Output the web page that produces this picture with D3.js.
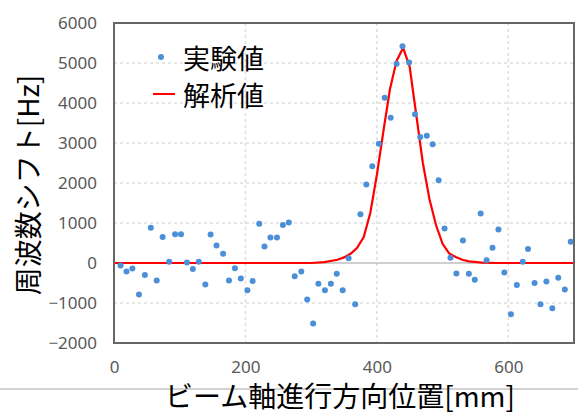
<!DOCTYPE html>
<html>
<head>
<meta charset="utf-8">
<script src="https://cdn.jsdelivr.net/npm/d3@7"></script>
<style>
    body { margin: 0; background: #fff; }
    text { font-family: "Noto Sans CJK JP", "Noto Sans", sans-serif; }
</style>
</head>
<body>
<div id="chart"></div>
<script>
// measured points (実験値)
const expX = [10, 19, 28, 38, 47, 56, 65, 74, 84, 93,
    102, 111, 120, 129, 139, 147, 156, 166, 175, 184,
    193, 203, 211, 221, 229, 238, 248, 257, 266, 275,
    285, 294, 303, 311, 321, 330, 339, 348, 357, 367,
    375, 384, 393, 403, 412, 421, 430, 439, 449, 458,
    466, 476, 485, 494, 503, 512, 521, 531, 540, 549,
    558, 567, 576, 585, 594, 604, 613, 622, 630, 640,
    649, 658, 667, 676, 686, 695];
const expY = [-60, -210, -140, -790, -300, 880, -440, 650, 30, 720,
    720, 10, -150, 30, -540, 710, 440, 230, -440, -130,
    -390, -680, -450, 980, 410, 640, 640, 950, 1010, -330,
    -210, -910, -1510, -520, -680, -520, -270, -680, 120, -1030,
    1220, 1960, 2420, 2980, 4130, 3630, 4980, 5420, 5010, 3720,
    3150, 3180, 2970, 2070, 860, 130, -260, 560, -270, -420,
    1240, 70, 380, 840, -240, -1280, -550, 30, 350, -500,
    -1030, -460, -1130, -370, -660, 530];

// analysis curve (解析値)
const calcX = [0, 300, 320, 340, 350, 360, 370, 380, 390, 400, 410, 420, 430, 440,
    450, 460, 470, 480, 490, 500, 510, 520, 530, 540, 560, 580, 700];
const calcY = [0, 0, 20, 80, 140, 230, 380, 650, 1250, 2200, 3300, 4350, 5050, 5380,
    4900, 3700, 2500, 1600, 950, 480, 240, 150, 80, 40, 10, 0, 0];

const xTicks = [0, 200, 400, 600];
const yTicks = [-2000, -1000, 0, 1000, 2000, 3000, 4000, 5000, 6000];
const legendLabels = ["実験値", "解析値"];

const width = 578, height = 413;
const plot = { left: 114, right: 574, top: 23, bottom: 343 };

const svg = d3.select("#chart")
    .append("svg")
    .attr("width", width)
    .attr("height", height);

svg.append("rect").attr("width", width).attr("height", height).attr("fill", "#fff");

const x = d3.scaleLinear().domain([0, 700]).range([plot.left, plot.right]);
const y = d3.scaleLinear().domain([-2000, 6000]).range([plot.bottom, plot.top]);

// grid lines
svg.selectAll(".hgrid")
    .data(yTicks.filter(d => d !== 0 && d !== -2000 && d !== 6000))
    .join("line")
    .attr("class", "hgrid")
    .attr("x1", plot.left).attr("x2", plot.right)
    .attr("y1", d => y(d)).attr("y2", d => y(d))
    .attr("stroke", "#dedede")
    .attr("stroke-width", 1.5)
    .attr("stroke-dasharray", "3,3");

svg.selectAll(".vgrid")
    .data(xTicks.filter(d => d !== 0))
    .join("line")
    .attr("class", "vgrid")
    .attr("y1", plot.top).attr("y2", plot.bottom)
    .attr("x1", d => x(d)).attr("x2", d => x(d))
    .attr("stroke", "#dedede")
    .attr("stroke-width", 1.5)
    .attr("stroke-dasharray", "3,3");

// zero line
svg.append("line")
    .attr("x1", plot.left).attr("x2", plot.right)
    .attr("y1", y(0)).attr("y2", y(0))
    .attr("stroke", "#bfbfbf")
    .attr("stroke-width", 1.5);

// axes tick labels
const xAxis = d3.axisBottom(x).tickValues(xTicks).tickSize(0).tickPadding(18);
const yAxis = d3.axisLeft(y).tickValues(yTicks).tickSize(0).tickPadding(17).tickFormat(d3.format("d"));

const gx = svg.append("g").attr("transform", `translate(0,${plot.bottom})`).call(xAxis);
const gy = svg.append("g").attr("transform", `translate(${plot.left},0)`).call(yAxis);
[gx, gy].forEach(g => {
    g.select(".domain").remove();
    g.selectAll("text")
        .attr("fill", "#595959")
        .style("font-size", "17px")
        .style("font-family", "'Noto Sans', sans-serif");
});

// analysis line
const line = d3.line().x(d => x(d[0])).y(d => y(d[1]));
svg.append("path")
    .datum(calcX.map((v, i) => [v, calcY[i]]))
    .attr("d", line)
    .attr("fill", "none")
    .attr("stroke", "#ff0000")
    .attr("stroke-width", 2.2);

// measured points
svg.selectAll(".pt")
    .data(expX.map((v, i) => [v, expY[i]]))
    .join("circle")
    .attr("class", "pt")
    .attr("cx", d => x(d[0]))
    .attr("cy", d => y(d[1]))
    .attr("r", 3)
    .attr("fill", "#4a8fd8");

// plot frame
svg.append("rect")
    .attr("x", plot.left).attr("y", plot.top)
    .attr("width", plot.right - plot.left)
    .attr("height", plot.bottom - plot.top)
    .attr("fill", "none")
    .attr("stroke", "#666")
    .attr("stroke-width", 2);

// legend
svg.append("circle").attr("cx", 161).attr("cy", 57).attr("r", 3).attr("fill", "#4a8fd8");
svg.append("line")
    .attr("x1", 153).attr("x2", 175).attr("y1", 94).attr("y2", 94)
    .attr("stroke", "#ff0000").attr("stroke-width", 2);
svg.selectAll(".leg")
    .data(legendLabels)
    .join("text")
    .attr("class", "leg")
    .attr("x", 183)
    .attr("y", (d, i) => 57 + i * 37)
    .attr("dominant-baseline", "central")
    .style("font-size", "27px")
    .attr("fill", "#000")
    .text(d => d);

// axis titles
svg.append("line")
    .attr("x1", 0).attr("x2", width).attr("y1", 389).attr("y2", 389)
    .attr("stroke", "#a6a6a6").attr("stroke-width", 1);

svg.append("text")
    .attr("x", 340)
    .attr("y", 395)
    .attr("text-anchor", "middle")
    .attr("dominant-baseline", "central")
    .style("font-size", "28px")
    .attr("fill", "#000")
    .text("ビーム軸進行方向位置[mm]");

svg.append("text")
    .attr("transform", "translate(27,185) rotate(-90)")
    .attr("text-anchor", "middle")
    .attr("dominant-baseline", "central")
    .style("font-size", "28px")
    .attr("fill", "#000")
    .text("周波数シフト[Hz]");
</script>
</body>
</html>
